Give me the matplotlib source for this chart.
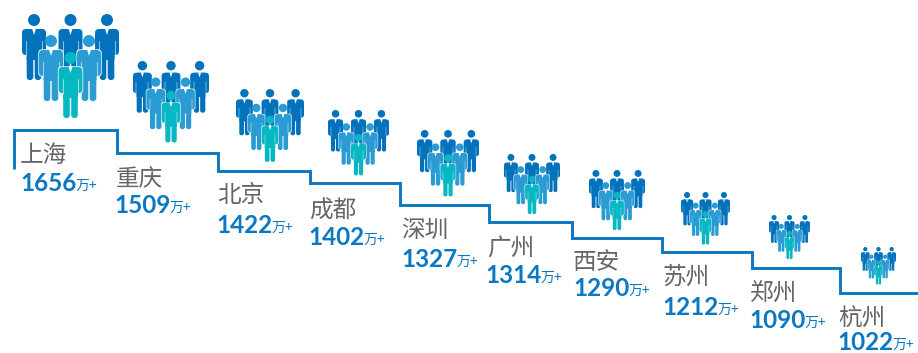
from matplotlib import pyplot as plt
from matplotlib.patches import Circle, FancyBboxPatch, Polygon

cities = ["上海", "重庆", "北京", "成都", "深圳", "广州", "西安", "苏州", "郑州", "杭州"]
population = [1656, 1509, 1422, 1402, 1327, 1314, 1290, 1212, 1090, 1022]

# stair outline, in pixels
step_ends = [117, 218, 310, 400, 489, 572, 662, 752, 840, 918]
step_levels = [130, 153, 171, 183, 205, 222, 238, 252, 268, 293]

# where each city's people, name and number go
group_left = [22, 133, 236, 328, 417, 504, 589, 681, 769, 861]
group_top = [14, 61, 89, 110, 130, 154, 170, 192, 215, 247]
group_width = [97, 76, 68, 61, 62, 56, 56, 49, 41, 35]
name_x = [20, 116, 217, 309, 401, 487, 573, 662, 750, 838]
name_y = [162, 186, 202, 218, 237, 256, 269, 284, 301, 326]
value_x = [20, 114, 216, 308, 401, 485, 573, 662, 749, 837]
value_y = [191, 213, 233, 245, 267, 283, 296, 315, 328, 350]

BLUE = "#0a78c2"
DARK = "#0272bc"
MID = "#2a9bd3"
TEAL = "#08b7c4"
GREY = "#666666"

plt.rcParams["font.family"] = ["Noto Sans CJK SC", "DejaVu Sans"]


def round_box(ax, x, y, w, h, r, color, z):
    ax.add_patch(FancyBboxPatch((x + r, y + r), w - 2 * r, h - 2 * r,
                                boxstyle="round,pad=%f,rounding_size=%f" % (r, r),
                                fc=color, ec="none", zorder=z))


def person(ax, cx, top, s, color, z):
    # head centre sits 6 units under top, whole figure is 66 units tall
    ax.add_patch(FancyBboxPatch((cx - 12 * s, top + 15 * s), 24 * s, 26 * s,
                                boxstyle="round,pad=%f,rounding_size=%f" % (0.7 * s, 4 * s),
                                fc="white", ec="none", zorder=z))
    ax.add_patch(Circle((cx, top + 6 * s), 6 * s, fc=color, ec="none", zorder=z + 0.1))
    # shoulders and arms
    round_box(ax, cx - 12 * s, top + 15 * s, 24 * s, 26 * s, 4 * s, color, z + 0.1)
    # torso down to the legs
    round_box(ax, cx - 7.5 * s, top + 15 * s, 15 * s, 31 * s, 1 * s, color, z + 0.1)
    # legs
    round_box(ax, cx - 7.3 * s, top + 38 * s, 6.6 * s, 28 * s, 3 * s, color, z + 0.1)
    round_box(ax, cx + 0.7 * s, top + 38 * s, 6.6 * s, 28 * s, 3 * s, color, z + 0.1)
    # gaps between arms and torso
    for side in (-1, 1):
        ax.plot([cx + side * 7.7 * s] * 2, [top + 27 * s, top + 42 * s],
                color="white", lw=0.4 * s, zorder=z + 0.2)
    # collar
    ax.add_patch(Polygon([(cx - 2 * s, top + 14.5 * s), (cx + 2 * s, top + 14.5 * s),
                          (cx, top + 21 * s)], fc="white", ec="none", zorder=z + 0.2))


def crowd(ax, left, top, width):
    s = width / 97
    back = [12, 48.5, 85]
    for dx in back:
        person(ax, left + dx * s, top, s, DARK, 2)
    for dx in (29, 67):
        person(ax, left + dx * s, top + 21 * s, s, MID, 3)
    person(ax, left + 48.5 * s, top + 38 * s, s, TEAL, 4)


fig = plt.figure(figsize=(9.18, 3.53), dpi=100)
ax = fig.add_axes([0, 0, 1, 1])
ax.set_xlim(0, 918)
ax.set_ylim(353, 0)
ax.axis("off")

# stair line, starts with a short riser at the far left
xs = [14, 14]
ys = [169, step_levels[0]]
for i in range(len(step_ends)):
    xs.append(step_ends[i])
    ys.append(step_levels[i])
    if i + 1 < len(step_ends):
        xs.append(step_ends[i])
        ys.append(step_levels[i + 1])
ax.plot(xs, ys, color=BLUE, lw=2.1, solid_joinstyle="miter", solid_capstyle="butt", zorder=1)

fig.canvas.draw()
renderer = fig.canvas.get_renderer()
for i in range(len(cities)):
    crowd(ax, group_left[i], group_top[i], group_width[i])
    ax.text(name_x[i], name_y[i], cities[i], fontsize=17, color=GREY, va="baseline", ha="left")
    t = ax.text(value_x[i], value_y[i], str(population[i]), fontsize=17.5, color=BLUE,
                family="Lato", fontweight="bold", va="baseline", ha="left")
    right = t.get_window_extent(renderer).x1
    ax.text(right - 0.5, value_y[i] - 1, "万+", fontsize=10, color=BLUE, va="baseline", ha="left")

fig.savefig("out.png", dpi=100)
